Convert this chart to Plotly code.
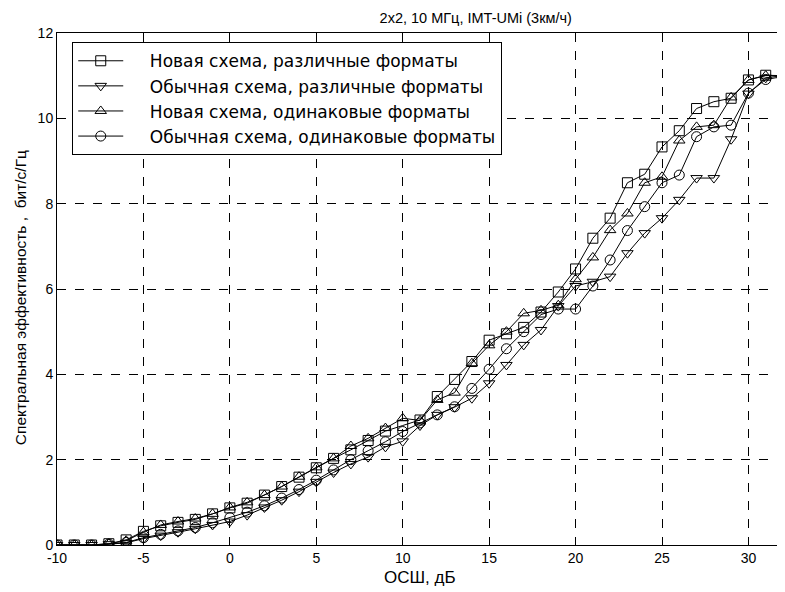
import plotly.graph_objects as go

snr = list(range(-10, 33))

new_diff = [0, 0, 0, 0.03, 0.12, 0.32, 0.45, 0.53, 0.6, 0.73, 0.87, 0.98, 1.17, 1.37, 1.59, 1.81,
            2.03, 2.23, 2.45, 2.67, 2.8, 2.93, 3.48, 3.88, 4.3, 4.8, 4.95, 5.1, 5.46, 5.93, 6.47,
            7.19, 7.66, 8.49, 8.69, 9.33, 9.71, 10.23, 10.39, 10.47, 10.9, 11.01, 11.0]
conv_diff = [0, 0, 0, 0.02, 0.05, 0.15, 0.22, 0.3, 0.38, 0.47, 0.55, 0.7, 0.88, 1.05, 1.25, 1.48,
             1.7, 1.9, 2.06, 2.3, 2.43, 2.8, 3.05, 3.23, 3.44, 3.79, 4.22, 4.69, 5.04, 5.6, 6.07,
             6.17, 6.29, 6.84, 7.31, 7.66, 8.09, 8.6, 8.6, 9.51, 10.58, 10.95, 11.0]
new_same = [0, 0, 0, 0.03, 0.1, 0.3, 0.47, 0.55, 0.62, 0.73, 0.88, 1.0, 1.17, 1.37, 1.6, 1.82,
            2.03, 2.32, 2.5, 2.74, 2.97, 2.92, 3.4, 3.57, 4.26, 4.68, 5.0, 5.43, 5.5, 5.62, 6.23,
            6.74, 7.38, 7.77, 8.49, 8.63, 9.48, 9.8, 9.84, 10.49, 10.9, 11.0, 11.0]
conv_same = [0, 0, 0, 0.02, 0.06, 0.17, 0.25, 0.33, 0.41, 0.52, 0.64, 0.77, 0.92, 1.1, 1.3, 1.52,
             1.76, 2.0, 2.21, 2.42, 2.66, 2.86, 3.05, 3.24, 3.67, 4.12, 4.6, 5.0, 5.4, 5.53, 5.53,
             6.07, 6.68, 7.37, 7.93, 8.49, 8.67, 9.57, 9.8, 9.84, 10.59, 10.91, 10.98]

names = ["Новая схема, различные форматы", "Обычная схема, различные форматы",
         "Новая схема, одинаковые форматы", "Обычная схема, одинаковые форматы"]
series = [new_diff, conv_diff, new_same, conv_same]
symbols = ["square-open", "triangle-down-open", "triangle-up-open", "circle-open"]

x_ticks = [-10, -5, 0, 5, 10, 15, 20, 25, 30]
x_tick_text = ["-10", "-5", "0", "5", "10", "15", "20", "25", "30"]
y_ticks = [0, 2, 4, 6, 8, 10, 12]

fig = go.Figure()
for i, (nm, ys, sym) in enumerate(zip(names, series, symbols)):
    fig.add_trace(go.Scatter(
        x=snr, y=ys, name="\u00a0" * 4 + nm, mode="lines+markers", legendgroup=f"g{i}",
        line=dict(color="black", width=1),
        marker=dict(symbol=sym, size=10, color="black", line=dict(width=1, color="black")),
    ))

axis_common = dict(
    showline=True, linecolor="black", linewidth=1, mirror="ticks",
    ticks="inside", ticklen=5, tickcolor="black", automargin=False,
    showgrid=True, gridcolor="black", griddash="dash", gridwidth=1,
    zeroline=False, tickfont=dict(family="Liberation Sans", size=14, color="black"),
)

fig.update_layout(
    width=777, height=584,
    margin=dict(l=49, r=2, t=25, b=47),
    paper_bgcolor="white", plot_bgcolor="white",
    title=dict(text="2x2, 10 МГц, IMT-UMi (3км/ч)", x=0.602, xanchor="center", y=0.983, yanchor="middle",
               font=dict(family="Liberation Sans", size=14.5, color="black")),
    xaxis=dict(range=[-10, 32], tickvals=x_ticks, ticktext=x_tick_text, ticklabelstandoff=0, **axis_common),
    yaxis=dict(range=[0, 12], tickvals=y_ticks, **axis_common),
    legend=dict(x=0.021, y=0.982, xanchor="left", yanchor="top",
                bgcolor="white", bordercolor="black", borderwidth=1,
                font=dict(family="DejaVu Sans", size=17, color="black"),
                itemwidth=45, traceorder="grouped", tracegroupgap=0),
    annotations=[
        dict(text="ОСШ, дБ", xref="paper", yref="paper", x=0.5, y=-0.0625, showarrow=False,
             xanchor="center", yanchor="middle", font=dict(family="Liberation Sans", size=17, color="black")),
        dict(text="Спектральная эффективность ,  бит/с/Гц", xref="paper", yref="paper",
             x=-0.051, y=0.484, textangle=-90, showarrow=False, xanchor="center", yanchor="middle",
             font=dict(family="Liberation Sans", size=15.5, color="black")),
    ],
    showlegend=True,
)

fig.write_html("out.html")
